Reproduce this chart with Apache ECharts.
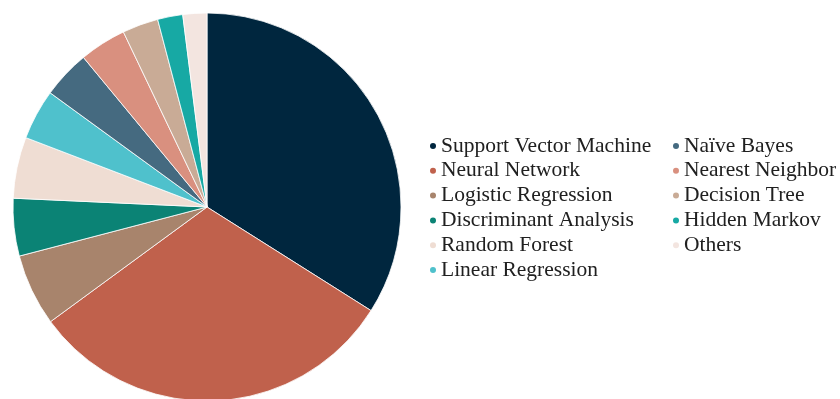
<!DOCTYPE html>
<html>
<head>
<meta charset="utf-8">
<script src="https://cdn.jsdelivr.net/npm/echarts@6/dist/echarts.min.js"></script>
<style>
  html, body { margin: 0; padding: 0; background: #ffffff; }
  #chart { width: 840px; height: 399px; }
</style>
</head>
<body>
<div id="chart"></div>
<script>
// Share of methods (percent), listed clockwise from 12 o'clock
const methods = [
  'Support Vector Machine', 'Neural Network', 'Logistic Regression',
  'Discriminant Analysis', 'Random Forest', 'Linear Regression',
  'Naïve Bayes', 'Nearest Neighbor', 'Decision Tree', 'Hidden Markov', 'Others'
];
const shares = [34.0, 31.0, 6.0, 4.8, 5.1, 4.2, 4.0, 3.9, 3.0, 2.1, 2.0];
const colors = [
  '#00263e', '#c0614c', '#a8846c', '#0b8375', '#efddd3', '#4fc1cc',
  '#456a80', '#d9907f', '#c9ab96', '#17a9a4', '#f3e5e0'
];

const legendLeftCol = methods.slice(0, 6);
const legendRightCol = methods.slice(6);

const legendBase = {
  orient: 'vertical',
  icon: 'circle',
  itemWidth: 6,
  itemHeight: 6,
  itemGap: 2.8,
  selectedMode: false,
  itemStyle: { borderWidth: 0 },
  textStyle: { fontFamily: 'Liberation Serif', fontSize: 21.5, color: '#202020', lineHeight: 20 }
};

const chart = echarts.init(document.getElementById('chart'), null, { renderer: 'canvas' });
chart.setOption({
  animation: false,
  backgroundColor: '#ffffff',
  color: colors,
  legend: [
    Object.assign({}, legendBase, { data: legendLeftCol, left: 425, top: 130 }),
    Object.assign({}, legendBase, { data: legendRightCol, left: 668, top: 130 })
  ],
  series: [{
    type: 'pie',
    center: [207, 207],
    radius: 194,
    startAngle: 90,
    clockwise: true,
    label: { show: false },
    labelLine: { show: false },
    itemStyle: { borderWidth: 0.8, borderColor: '#ffffff' },
    emphasis: { disabled: true },
    data: methods.map((name, i) => ({ name, value: shares[i] }))
  }]
});
</script>
</body>
</html>
